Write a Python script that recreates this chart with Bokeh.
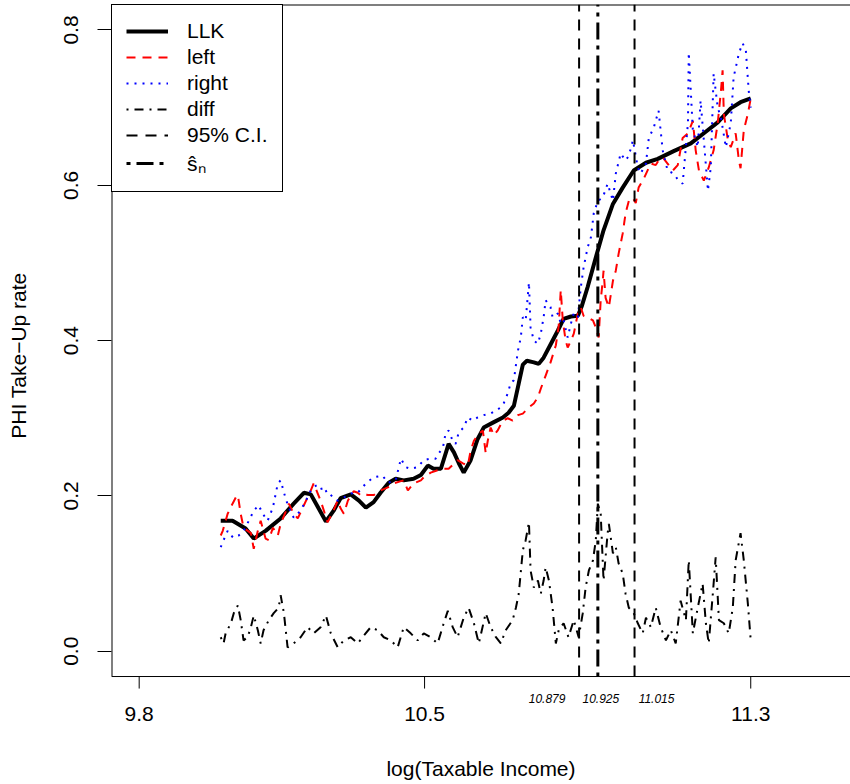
import math
from bokeh.plotting import figure
from bokeh.models import (Range1d, FixedTicker, Legend, LegendItem, Span,
                          NumeralTickFormatter)
from bokeh.core.properties import value
from bokeh.embed import file_html
from bokeh.resources import INLINE

FONT = "Liberation Sans"

# ---------------- data ----------------
llk_x = [10.000, 10.029, 10.061, 10.081, 10.110, 10.147, 10.179, 10.204, 10.221, 10.240,
         10.258, 10.277, 10.294, 10.319, 10.339, 10.356, 10.375, 10.392, 10.412, 10.429,
         10.449, 10.473, 10.491, 10.508, 10.522, 10.540, 10.559, 10.572, 10.584, 10.596,
         10.613, 10.630, 10.645, 10.670, 10.692, 10.706, 10.719, 10.731, 10.741, 10.751,
         10.768, 10.780, 10.792, 10.809, 10.827, 10.841, 10.859, 10.876, 10.886, 10.900,
         10.920, 10.939, 10.962, 10.986, 11.013, 11.043, 11.072, 11.111, 11.153, 11.185,
         11.219, 11.251, 11.275, 11.300]
llk_y = [0.168, 0.168, 0.158, 0.145, 0.155, 0.171, 0.190, 0.204, 0.202, 0.184,
         0.167, 0.181, 0.197, 0.202, 0.194, 0.185, 0.192, 0.204, 0.217, 0.222,
         0.220, 0.222, 0.227, 0.239, 0.235, 0.235, 0.267, 0.256, 0.242, 0.230,
         0.246, 0.273, 0.288, 0.295, 0.301, 0.307, 0.316, 0.345, 0.369, 0.374,
         0.372, 0.370, 0.378, 0.395, 0.413, 0.428, 0.431, 0.432, 0.445, 0.469,
         0.507, 0.542, 0.576, 0.597, 0.619, 0.629, 0.634, 0.644, 0.654, 0.667,
         0.681, 0.699, 0.707, 0.712]

left_x = [10.000, 10.005, 10.017, 10.029, 10.037, 10.042, 10.049, 10.056, 10.074, 10.081,
          10.091, 10.098, 10.110, 10.118, 10.128, 10.140, 10.147, 10.159, 10.167, 10.179,
          10.189, 10.204, 10.221, 10.228, 10.238, 10.245, 10.253, 10.262, 10.275, 10.287,
          10.294, 10.302, 10.312, 10.326, 10.336, 10.343, 10.351, 10.361, 10.375, 10.392,
          10.410, 10.424, 10.442, 10.449, 10.459, 10.473, 10.491, 10.498, 10.515, 10.532,
          10.547, 10.559, 10.581, 10.594, 10.606, 10.613, 10.621, 10.633, 10.643, 10.650,
          10.655, 10.662, 10.670, 10.679, 10.692, 10.704, 10.716, 10.729, 10.741, 10.756,
          10.768, 10.778, 10.785, 10.797, 10.809, 10.822, 10.829, 10.834, 10.839, 10.846,
          10.851, 10.859, 10.866, 10.876, 10.883, 10.890, 10.900, 10.913, 10.920, 10.927,
          10.932, 10.937, 10.939, 10.944, 10.952, 10.962, 10.969, 10.976, 10.986, 10.993,
          11.001, 11.011, 11.018, 11.025, 11.038, 11.055, 11.067, 11.074, 11.084, 11.096,
          11.109, 11.121, 11.133, 11.146, 11.158, 11.165, 11.173, 11.185, 11.197, 11.209,
          11.219, 11.227, 11.231, 11.234, 11.244, 11.251, 11.263, 11.271, 11.275, 11.283,
          11.293, 11.300]
left_y = [0.149, 0.155, 0.177, 0.190, 0.198, 0.201, 0.177, 0.159, 0.152, 0.132,
          0.155, 0.168, 0.145, 0.143, 0.159, 0.149, 0.164, 0.179, 0.190, 0.177,
          0.171, 0.188, 0.207, 0.216, 0.203, 0.194, 0.181, 0.166, 0.179, 0.194,
          0.184, 0.177, 0.194, 0.206, 0.204, 0.201, 0.203, 0.201, 0.201, 0.207,
          0.211, 0.216, 0.219, 0.220, 0.207, 0.216, 0.220, 0.224, 0.230, 0.233,
          0.235, 0.235, 0.246, 0.242, 0.239, 0.258, 0.271, 0.280, 0.284, 0.255,
          0.271, 0.288, 0.278, 0.284, 0.297, 0.300, 0.297, 0.304, 0.306, 0.314,
          0.319, 0.327, 0.338, 0.355, 0.372, 0.394, 0.419, 0.465, 0.426, 0.400,
          0.391, 0.400, 0.409, 0.435, 0.443, 0.432, 0.430, 0.426, 0.417, 0.404,
          0.452, 0.477, 0.490, 0.455, 0.443, 0.477, 0.490, 0.512, 0.538, 0.564,
          0.580, 0.584, 0.577, 0.597, 0.609, 0.628, 0.626, 0.632, 0.636, 0.628,
          0.619, 0.626, 0.661, 0.667, 0.683, 0.645, 0.619, 0.606, 0.623, 0.645,
          0.680, 0.722, 0.748, 0.692, 0.658, 0.649, 0.667, 0.632, 0.622, 0.671,
          0.692, 0.712]

right_x = [10.000, 10.007, 10.017, 10.025, 10.032, 10.044, 10.056, 10.069, 10.081, 10.093,
           10.103, 10.115, 10.128, 10.140, 10.147, 10.159, 10.167, 10.179, 10.196, 10.209,
           10.221, 10.233, 10.245, 10.250, 10.262, 10.275, 10.287, 10.302, 10.319, 10.336,
           10.356, 10.375, 10.397, 10.410, 10.429, 10.442, 10.454, 10.466, 10.483, 10.498,
           10.515, 10.527, 10.535, 10.545, 10.552, 10.559, 10.569, 10.576, 10.584, 10.596,
           10.606, 10.618, 10.630, 10.645, 10.662, 10.675, 10.687, 10.694, 10.704, 10.711,
           10.719, 10.729, 10.736, 10.741, 10.748, 10.756, 10.760, 10.768, 10.778, 10.785,
           10.792, 10.797, 10.802, 10.809, 10.814, 10.827, 10.834, 10.841, 10.851, 10.859,
           10.866, 10.876, 10.883, 10.890, 10.900, 10.908, 10.915, 10.925, 10.937, 10.949,
           10.962, 10.969, 10.981, 10.993, 11.001, 11.011, 11.023, 11.030, 11.043, 11.050,
           11.062, 11.074, 11.084, 11.096, 11.111, 11.123, 11.133, 11.146, 11.148, 11.158,
           11.170, 11.177, 11.185, 11.195, 11.202, 11.209, 11.219, 11.227, 11.239, 11.251,
           11.258, 11.271, 11.280, 11.288, 11.295, 11.300]
right_y = [0.134, 0.143, 0.155, 0.149, 0.146, 0.149, 0.155, 0.168, 0.181, 0.188,
           0.177, 0.168, 0.185, 0.216, 0.220, 0.197, 0.185, 0.172, 0.181, 0.194,
           0.207, 0.213, 0.213, 0.204, 0.207, 0.198, 0.194, 0.198, 0.203, 0.204,
           0.216, 0.224, 0.226, 0.217, 0.220, 0.248, 0.237, 0.235, 0.237, 0.246,
           0.248, 0.248, 0.255, 0.262, 0.282, 0.284, 0.271, 0.267, 0.282, 0.288,
           0.301, 0.297, 0.301, 0.304, 0.306, 0.310, 0.314, 0.319, 0.332, 0.345,
           0.349, 0.387, 0.404, 0.430, 0.426, 0.475, 0.417, 0.400, 0.396, 0.409,
           0.430, 0.452, 0.448, 0.443, 0.430, 0.435, 0.422, 0.426, 0.404, 0.422,
           0.435, 0.430, 0.468, 0.494, 0.520, 0.533, 0.564, 0.580, 0.584, 0.602,
           0.580, 0.615, 0.641, 0.632, 0.638, 0.658, 0.623, 0.615, 0.628, 0.661,
           0.674, 0.696, 0.645, 0.619, 0.615, 0.606, 0.602, 0.680, 0.771, 0.671,
           0.649, 0.709, 0.658, 0.593, 0.623, 0.744, 0.700, 0.687, 0.649, 0.680,
           0.739, 0.770, 0.783, 0.774, 0.722, 0.700]

diff_x = [10.000, 10.007, 10.012, 10.025, 10.032, 10.042, 10.049, 10.056, 10.066, 10.074,
          10.081, 10.091, 10.098, 10.105, 10.118, 10.130, 10.142, 10.147, 10.155, 10.164,
          10.179, 10.196, 10.213, 10.228, 10.245, 10.258, 10.270, 10.287, 10.302, 10.319,
          10.336, 10.351, 10.368, 10.385, 10.400, 10.417, 10.434, 10.449, 10.466, 10.483,
          10.498, 10.515, 10.532, 10.547, 10.557, 10.569, 10.581, 10.596, 10.608, 10.621,
          10.633, 10.650, 10.662, 10.675, 10.687, 10.699, 10.716, 10.724, 10.731, 10.741,
          10.748, 10.756, 10.760, 10.768, 10.778, 10.785, 10.792, 10.797, 10.805, 10.814,
          10.822, 10.829, 10.841, 10.853, 10.866, 10.878, 10.888, 10.895, 10.903, 10.913,
          10.920, 10.925, 10.932, 10.939, 10.949, 10.952, 10.962, 10.969, 10.976, 10.986,
          10.993, 11.001, 11.013, 11.023, 11.035, 11.043, 11.055, 11.067, 11.079, 11.092,
          11.104, 11.116, 11.128, 11.141, 11.148, 11.158, 11.170, 11.182, 11.190, 11.197,
          11.207, 11.214, 11.222, 11.234, 11.246, 11.256, 11.263, 11.275, 11.283, 11.293,
          11.300]
diff_y = [0.018, 0.010, 0.023, 0.036, 0.049, 0.059, 0.040, 0.014, 0.018, 0.031,
          0.046, 0.027, 0.010, 0.027, 0.040, 0.049, 0.056, 0.072, 0.049, 0.005,
          0.010, 0.018, 0.031, 0.023, 0.031, 0.046, 0.023, 0.005, 0.014, 0.018,
          0.010, 0.020, 0.031, 0.027, 0.018, 0.014, 0.005, 0.031, 0.023, 0.014,
          0.023, 0.018, 0.010, 0.036, 0.052, 0.031, 0.018, 0.043, 0.056, 0.036,
          0.010, 0.049, 0.031, 0.018, 0.010, 0.027, 0.040, 0.056, 0.074, 0.130,
          0.143, 0.166, 0.104, 0.082, 0.091, 0.074, 0.091, 0.108, 0.091, 0.056,
          0.010, 0.027, 0.036, 0.018, 0.040, 0.018, 0.049, 0.082, 0.104, 0.117,
          0.143, 0.190, 0.177, 0.091, 0.152, 0.164, 0.126, 0.134, 0.113, 0.100,
          0.074, 0.056, 0.049, 0.036, 0.023, 0.043, 0.031, 0.056, 0.031, 0.014,
          0.027, 0.010, 0.065, 0.040, 0.117, 0.023, 0.056, 0.087, 0.036, 0.010,
          0.074, 0.121, 0.040, 0.036, 0.023, 0.056, 0.117, 0.152, 0.117, 0.061,
          0.014]

ci_bounds = [10.879, 11.015]
s_hat = [10.925]
x_ticks = [9.8, 10.5, 11.3]
y_ticks = [0.0, 0.2, 0.4, 0.6, 0.8]
legend_labels = ["LLK", "left", "right", "diff", "95% C.I.", "\u015d\u2099"]

# ---------------- figure ----------------
X0, X1 = 9.7321, 11.5447      # frame (page x 111 .. 850)
Y0, Y1 = -0.0712, 0.8328      # frame (page y 706 .. 4)
BOX_Y0 = -0.0326              # bottom line of the plot box
TICK_Y = -0.0481              # end of the x tick marks (12 px below the box)
LAB_Y = -0.0609               # position of the small italic labels

p = figure(width=850, height=784, x_range=Range1d(X0, X1), y_range=Range1d(Y0, Y1),
           output_backend="svg", toolbar_location=None,
           min_border_left=111, min_border_right=0, min_border_top=4, min_border_bottom=78)
p.outline_line_color = None
p.grid.visible = False
p.background_fill_color = "white"
p.border_fill_color = "white"

for ax in (p.xaxis[0], p.yaxis[0]):
    ax.axis_line_color = None
    ax.minor_tick_line_color = None
    ax.major_label_text_font = FONT
    ax.major_label_text_font_size = "21px"
    ax.major_label_text_color = "black"
    ax.axis_label_text_font = FONT
    ax.axis_label_text_font_size = "21px"
    ax.axis_label_text_font_style = "normal"
    ax.axis_label_text_color = "black"

# x axis sits at the frame bottom, 30 px below the box line
p.xaxis.ticker = FixedTicker(ticks=x_ticks, minor_ticks=[])
p.xaxis.major_tick_line_color = None
p.xaxis.major_tick_in = 0
p.xaxis.major_tick_out = 0
p.xaxis.major_label_standoff = 0
p.xaxis.axis_label = "log(Taxable Income)"
p.xaxis.axis_label_standoff = 33

p.yaxis.ticker = FixedTicker(ticks=y_ticks, minor_ticks=[])
p.yaxis.formatter = NumeralTickFormatter(format="0.0")
p.yaxis.major_tick_line_color = "black"
p.yaxis.major_tick_in = 0
p.yaxis.major_tick_out = 14
p.yaxis.major_label_standoff = 19
p.yaxis.major_label_orientation = "vertical"
p.yaxis.axis_label = "PHI Take\u2212Up rate"
p.yaxis.axis_label_standoff = 32

# plot box: top, bottom and left lines, and the x tick marks hanging from the box
p.add_layout(Span(location=Y1, dimension="width", line_color="black", line_width=2))
p.add_layout(Span(location=BOX_Y0, dimension="width", line_color="black", line_width=1))
p.segment(x0=[X0], x1=[X0], y0=[BOX_Y0], y1=[Y1], line_color="black", line_width=2)
p.segment(x0=x_ticks, x1=x_ticks, y0=[BOX_Y0] * len(x_ticks), y1=[TICK_Y] * len(x_ticks),
          line_color="black", line_width=1)

r_llk = p.line(llk_x, llk_y, line_color="black", line_width=4)
r_left = p.line(left_x, left_y, line_color="red", line_width=2, line_dash="9 7")
r_right = p.line(right_x, right_y, line_color="blue", line_width=2, line_dash="2 6")
r_diff = p.line(diff_x, diff_y, line_color="black", line_width=2, line_dash="2 6 9 6")
r_ci = p.segment(x0=ci_bounds, x1=ci_bounds, y0=[BOX_Y0] * len(ci_bounds),
                 y1=[Y1] * len(ci_bounds), line_color="black", line_width=2, line_dash="11 8")
r_sn = p.segment(x0=s_hat, x1=s_hat, y0=[BOX_Y0], y1=[Y1],
                 line_color="black", line_width=3, line_dash="4 6 17 6")

legend = Legend(items=[LegendItem(label=lab, renderers=[r]) for lab, r in
                       zip(legend_labels, [r_llk, r_left, r_right, r_diff, r_ci, r_sn])],
                location="top_left", margin=0, padding=14, spacing=2,
                glyph_width=42, glyph_height=24, label_height=24, label_standoff=19,
                label_text_font=FONT, label_text_font_size="21px", label_text_color="black",
                border_line_color="black", border_line_width=1, border_line_alpha=1,
                background_fill_color="white", background_fill_alpha=1)
p.add_layout(legend)

# small italic labels of the vertical lines (between box line and tick labels)
marks = sorted(ci_bounds + s_hat)
p.text(x=marks, y=[LAB_Y] * len(marks), text=[f"{v:.3f}" for v in marks],
       x_offset=[-32, 3, 22], text_font=value(FONT), text_font_size="12px",
       text_font_style="italic", text_align="center", text_baseline="alphabetic",
       text_color="black")

open("out.html", "w").write(file_html(p, INLINE))
